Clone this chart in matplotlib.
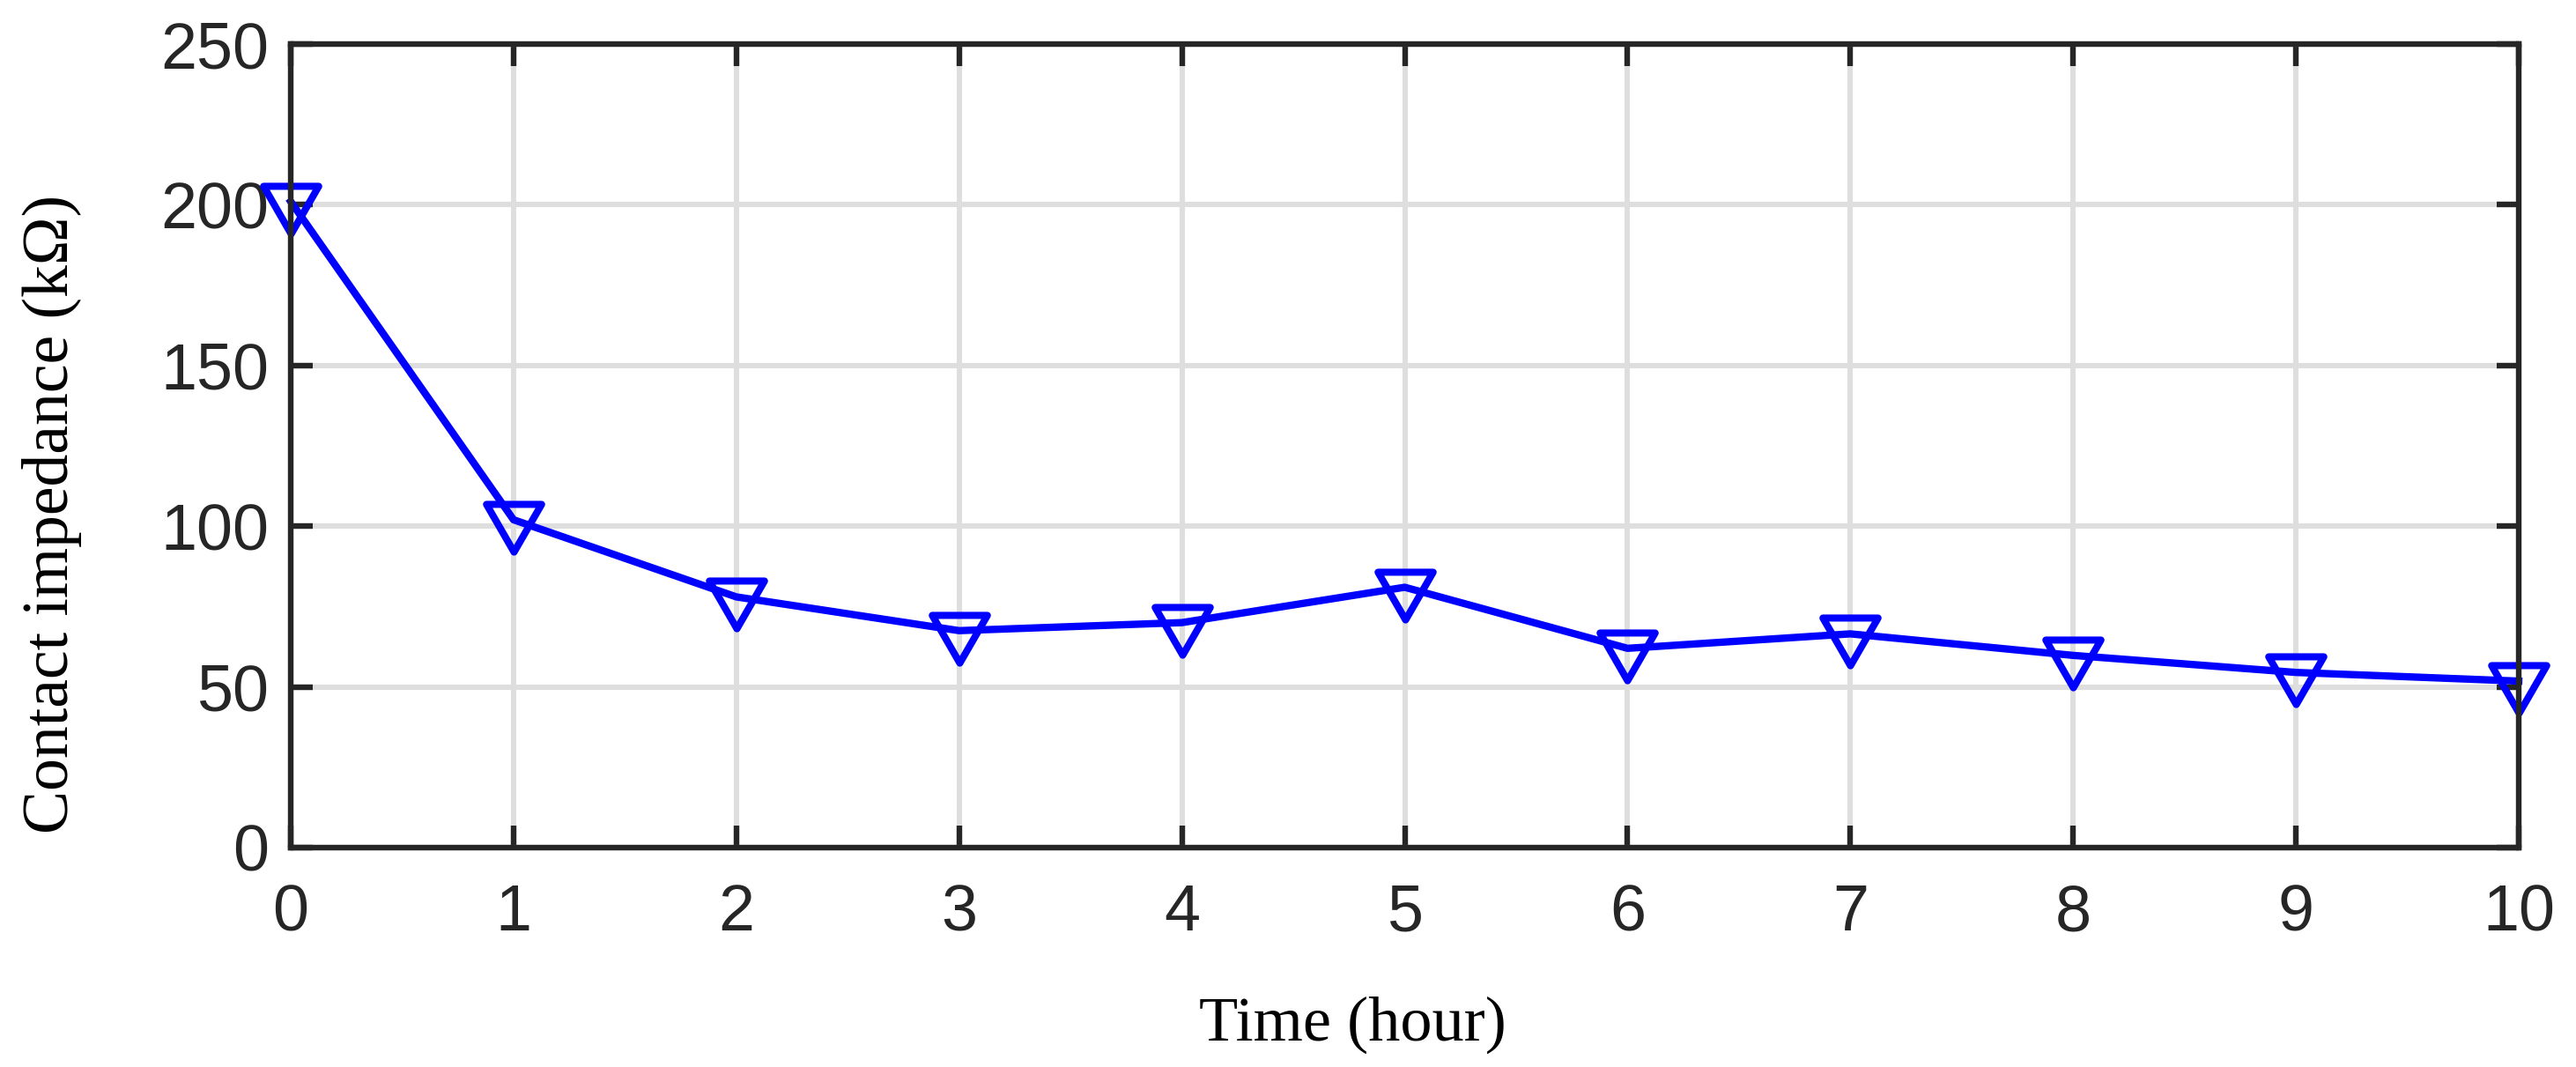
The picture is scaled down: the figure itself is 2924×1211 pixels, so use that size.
import numpy as np
import matplotlib
matplotlib.use("Agg")
import matplotlib.pyplot as plt
from matplotlib.path import Path

# data
hours = [0, 1, 2, 3, 4, 5, 6, 7, 8, 9, 10]
impedance = [201, 102, 78, 67.5, 70, 81, 62, 66.5, 59.8, 54.5, 51.8]
x_ticks = [0, 1, 2, 3, 4, 5, 6, 7, 8, 9, 10]
y_ticks = [0, 50, 100, 150, 200, 250]

# downward triangle centred on its centroid (like MATLAB's 'v')
h = np.sqrt(3)
tri = Path([(-1, h / 3), (1, h / 3), (0, -2 * h / 3), (-1, h / 3)],
           [Path.MOVETO, Path.LINETO, Path.LINETO, Path.CLOSEPOLY])

axis_col = "#262626"

fig = plt.figure(figsize=(14.62, 6.055), dpi=200)
ax = fig.add_axes([0.11286, 0.20562, 0.86491, 0.75309])

ax.plot(hours, impedance, color="#0000ff", linewidth=3.0,
        marker=tri, markersize=26, markerfacecolor="none",
        markeredgecolor="#0000ff", markeredgewidth=2.9,
        clip_on=False, zorder=3)

ax.set_xlim(0, 10)
ax.set_ylim(0, 250)
ax.set_xticks(x_ticks)
ax.set_yticks(y_ticks)

ax.grid(True, color="#dedede", linewidth=2.2)
ax.set_axisbelow(True)

for s in ax.spines.values():
    s.set_color(axis_col)
    s.set_linewidth(2.3)
    s.set_zorder(4)

ax.tick_params(axis="both", which="major", direction="in", length=9,
               width=2.3, color=axis_col, labelcolor=axis_col,
               top=True, right=True, labelsize=26.5)
ax.tick_params(axis="x", pad=14.5)
ax.tick_params(axis="y", pad=9)
for lab in ax.get_xticklabels() + ax.get_yticklabels():
    lab.set_family("Liberation Sans")

ax.set_xlabel("Time (hour)", family="Liberation Serif", fontsize=26, color="black")
ax.set_ylabel("Contact impedance (k\u03a9)", family="Liberation Serif", fontsize=26.5, color="black")
ax.xaxis.set_label_coords(0.4765, -0.185)
ax.yaxis.set_label_coords(-0.0937, 0.415)

fig.savefig("out.png", dpi=200, facecolor="white")
